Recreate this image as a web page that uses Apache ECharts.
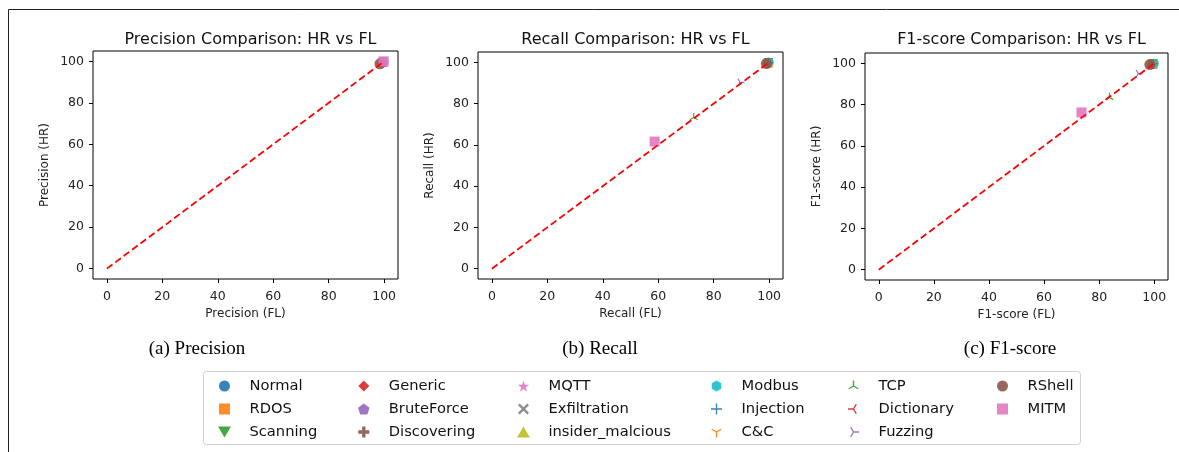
<!DOCTYPE html>
<html>
<head>
<meta charset="utf-8">
<script src="https://cdn.jsdelivr.net/npm/echarts@6/dist/echarts.min.js"></script>
<style>
  html, body { margin: 0; padding: 0; background: #fff; }
  #main { width: 1179px; height: 452px; }
</style>
</head>
<body>
<div id="main"></div>
<script>
// class names, in legend order
var classes = ["Normal", "RDOS", "Scanning", "Generic", "BruteForce", "Discovering",
  "MQTT", "Exfiltration", "insider_malcious", "Modbus", "Injection", "C&C",
  "TCP", "Dictionary", "Fuzzing", "RShell", "MITM"];

// FL (x) and HR (y) scores per class
var precFL = [99.8, 99.5, 99.7, 99.9, 99.6, 99.2, 99.8, 99.4, 99.9, 99.9, 99.7, 99.6, 99.0, 98.8, 99.3, 98.5, 99.8];
var precHR = [99.9, 99.6, 99.7, 99.9, 99.6, 99.3, 99.8, 99.4, 99.9, 99.9, 99.8, 99.6, 99.1, 98.9, 99.2, 98.8, 100.0];
var recFL = [99.9, 99.7, 99.8, 99.9, 99.6, 99.4, 99.8, 99.5, 100.0, 99.9, 99.7, 99.6, 72.8, 99.2, 89.5, 99.0, 58.7];
var recHR = [100.0, 99.8, 99.9, 99.9, 99.7, 99.5, 99.9, 99.6, 100.0, 100.0, 99.8, 99.7, 73.3, 99.3, 90.3, 99.4, 61.6];
var f1FL = [99.8, 99.6, 99.7, 99.9, 99.6, 99.3, 99.8, 99.4, 99.9, 99.9, 99.7, 99.6, 83.7, 99.0, 94.2, 98.4, 73.6];
var f1HR = [99.9, 99.7, 99.8, 99.9, 99.7, 99.4, 99.9, 99.5, 100.0, 99.9, 99.8, 99.6, 83.5, 99.1, 95.0, 99.4, 76.2];

var tickValues = [0, 20, 40, 60, 80, 100];
var diag = [0, 100];

var panels = [
  { title: "Precision Comparison: HR vs FL", xName: "Precision (FL)", yName: "Precision (HR)", caption: "(a) Precision", fl: precFL, hr: precHR },
  { title: "Recall Comparison: HR vs FL", xName: "Recall (FL)", yName: "Recall (HR)", caption: "(b) Recall", fl: recFL, hr: recHR },
  { title: "F1-score Comparison: HR vs FL", xName: "F1-score (FL)", yName: "F1-score (HR)", caption: "(c) F1-score", fl: f1FL, hr: f1HR }
];

// thin-armed marker (matplotlib tri_*) as a filled path
function arms(angles) {
  var d = "M0,0M20,20";
  var w = 1.3;
  angles.forEach(function (a) {
    var r = a * Math.PI / 180;
    var dx = Math.cos(r), dy = Math.sin(r);
    var px = -dy * w, py = dx * w;
    var ex = 10 + dx * 10, ey = 10 + dy * 10;
    d += "M" + (10 + px).toFixed(2) + "," + (10 + py).toFixed(2) +
      "L" + (ex + px).toFixed(2) + "," + (ey + py).toFixed(2) +
      "L" + (ex - px).toFixed(2) + "," + (ey - py).toFixed(2) +
      "L" + (10 - px).toFixed(2) + "," + (10 - py).toFixed(2) + "Z";
  });
  return "path://" + d;
}

var CIRCLE = "path://M0,10A10,10,0,1,1,20,10A10,10,0,1,1,0,10Z";
var SQUARE = "path://M0,0H20V20H0Z";
var markers = [
  CIRCLE,
  SQUARE,
  "path://M0,2L20,2L10,19Z",
  "path://M10,0L20,10L10,20L0,10Z",
  "path://M10,0L19.51,6.91L15.88,18.09L4.12,18.09L0.49,6.91Z",
  "path://M7,0H13V7H20V13H13V20H7V13H0V7H7Z",
  "path://M10,0L12.25,6.91L19.51,6.91L13.63,11.18L15.88,18.09L10,13.82L4.12,18.09L6.37,11.18L0.49,6.91L7.76,6.91Z",
  "path://M3,0L10,7L17,0L20,3L13,10L20,17L17,20L10,13L3,20L0,17L7,10L0,3Z",
  "path://M10,1L20,18L0,18Z",
  "path://M10,0L18.66,5L18.66,15L10,20L1.34,15L1.34,5Z",
  "path://M8.8,0H11.2V8.8H20V11.2H11.2V20H8.8V11.2H0V8.8H8.8Z",
  arms([90, 210, 330]),
  arms([270, 150, 30]),
  arms([180, 300, 60]),
  arms([0, 240, 120]),
  CIRCLE,
  SQUARE
];
var colors = ["#1f77b4", "#ff7f0e", "#2ca02c", "#d62728", "#9467bd", "#8c564b",
  "#e377c2", "#7f7f7f", "#bcbd22", "#17becf", "#1f77b4", "#ff7f0e",
  "#2ca02c", "#d62728", "#9467bd", "#8c564b", "#e377c2"];
var sizes = [9, 9, 9, 9, 9, 9, 11, 9, 9, 9, 9, 9, 9, 9, 9, 11, 10];

var grids = [
  { left: 93, top: 51, width: 305, height: 228 },
  { left: 478, top: 52, width: 305, height: 227 },
  { left: 865, top: 53, width: 303, height: 227 }
];
var FONT = "DejaVu Sans";

var myChart = echarts.init(document.getElementById("main"));

var option = {
  animation: false,
  backgroundColor: "#fff",
  textStyle: { fontFamily: FONT },
  title: [],
  grid: [],
  xAxis: [],
  yAxis: [],
  series: [],
  legend: [],
  graphic: []
};

panels.forEach(function (p, g) {
  var gr = grids[g];
  option.grid.push({
    left: gr.left, top: gr.top, width: gr.width, height: gr.height,
    show: true, borderColor: "#000", borderWidth: 1, backgroundColor: "#fff"
  });
  option.title.push({
    text: p.title,
    left: gr.left + gr.width / 2,
    top: 27,
    textAlign: "center",
    textStyle: { fontFamily: FONT, fontSize: 16, fontWeight: "normal", color: "#111" }
  });
  var axisCommon = {
    type: "value", min: -5, max: 105, gridIndex: g,
    nameLocation: "middle",
    nameTextStyle: { fontFamily: FONT, fontSize: 12, color: "#222" },
    axisLine: { show: false, onZero: false },
    axisTick: { show: true, inside: false, length: 4, customValues: tickValues, lineStyle: { color: "#000" } },
    axisLabel: { fontFamily: FONT, fontSize: 12.5, color: "#222", margin: 9, customValues: tickValues },
    splitLine: { show: false }
  };
  option.xAxis.push(Object.assign({}, axisCommon, {
    name: p.xName, nameGap: 29,
    axisLabel: Object.assign({}, axisCommon.axisLabel, { margin: 11 })
  }));
  option.yAxis.push(Object.assign({}, axisCommon, { name: p.yName, nameGap: 42, nameRotate: 90 }));

  classes.forEach(function (c, i) {
    option.series.push({
      type: "scatter", name: c, xAxisIndex: g, yAxisIndex: g,
      data: [[p.fl[i], p.hr[i]]],
      symbol: markers[i], symbolSize: sizes[i],
      itemStyle: { color: colors[i], opacity: 0.9 },
      z: 2
    });
  });
  option.series.push({
    type: "line", xAxisIndex: g, yAxisIndex: g,
    data: [[diag[0], diag[0]], [diag[1], diag[1]]],
    symbol: "none", silent: true, z: 5,
    lineStyle: { color: "#ff0000", width: 1.8, type: [7, 3.5] }
  });

  option.graphic.push({
    type: "text",
    x: [197, 600, 1010][g], y: 349,
    style: {
      text: p.caption, fontFamily: "Liberation Serif", fontSize: 19, fill: "#000",
      textAlign: "center", textVerticalAlign: "middle"
    }
  });
});

// legend: 6 columns of 3 rows
var iconX = [224, 364, 523, 717, 854, 1003];
for (var col = 0; col < 6; col++) {
  option.legend.push({
    orient: "vertical",
    left: iconX[col] - 6,
    top: 378,
    padding: 0,
    itemWidth: 40,
    itemHeight: 11,
    itemGap: 7,
    symbolKeepAspect: true,
    selectedMode: false,
    data: classes.slice(col * 3, col * 3 + 3),
    textStyle: { fontFamily: FONT, fontSize: 14.7, color: "#111", lineHeight: 16 }
  });
}

option.graphic.push(
  {
    type: "rect", z: -1,
    shape: { x: 203.5, y: 371.5, width: 877, height: 73, r: 3 },
    style: { fill: "#fff", stroke: "#d0d0d0", lineWidth: 1 }
  },
  {
    type: "line",
    shape: { x1: 8.5, y1: 9.5, x2: 1179, y2: 9.5 },
    style: { stroke: "#222", lineWidth: 1 }
  },
  {
    type: "line",
    shape: { x1: 8.5, y1: 9.5, x2: 8.5, y2: 452 },
    style: { stroke: "#222", lineWidth: 1 }
  }
);

myChart.setOption(option);
</script>
</body>
</html>
